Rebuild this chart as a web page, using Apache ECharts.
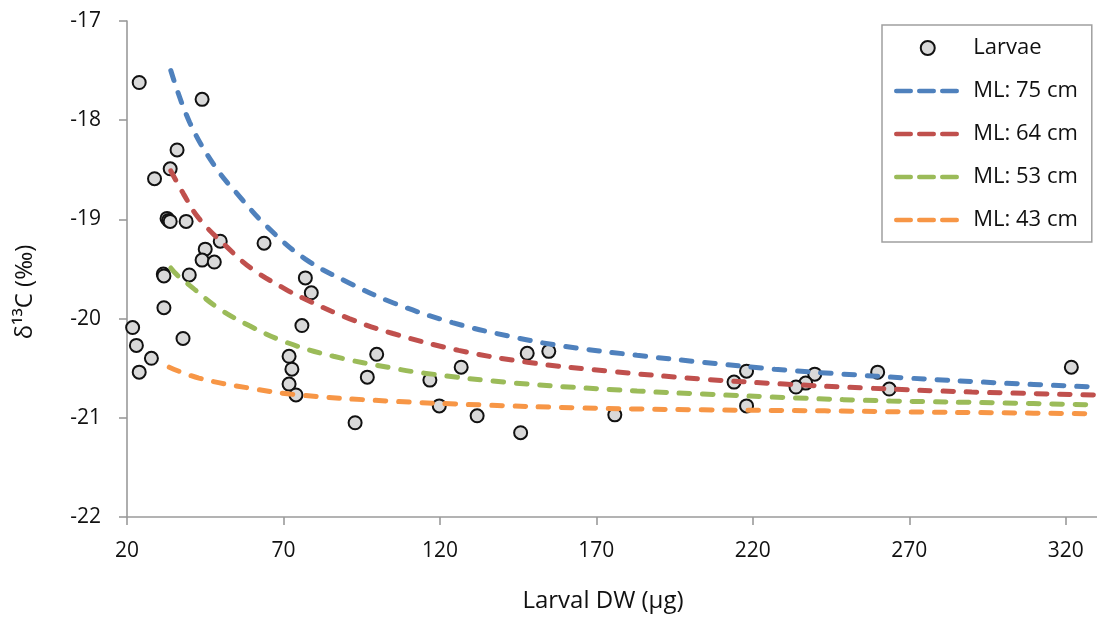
<!DOCTYPE html>
<html>
<head>
<meta charset="utf-8">
<script src="https://cdn.jsdelivr.net/npm/echarts@6/dist/echarts.min.js"></script>
<style>
  html, body { margin: 0; padding: 0; background: #fff; }
  #chart { width: 1097px; height: 626px; }
</style>
</head>
<body>
<div id="chart"></div>
<script>
// Larval dry weight (µg) and carbon isotope ratio of each larva
const larvaeDW = [23.9, 44.0, 36.0, 33.8, 28.8, 32.8, 33.3, 33.8, 38.9, 49.8, 45.0, 63.8,
  44.0, 47.9, 31.6, 31.8, 39.9, 77.0, 78.9, 31.8, 21.8, 23.0, 27.8, 23.9, 37.9, 71.8,
  72.7, 71.8, 74.0, 75.9, 99.8, 96.8, 92.9, 147.9, 154.8, 126.8, 116.8, 119.8, 131.9,
  145.8, 175.9, 218.0, 214.0, 218.0, 239.8, 236.9, 233.8, 259.9, 263.6, 321.8];
const larvaeD13C = [-17.62, -17.79, -18.30, -18.49, -18.59, -18.99, -19.01, -19.02, -19.02,
  -19.22, -19.30, -19.24, -19.41, -19.43, -19.55, -19.57, -19.56, -19.59, -19.74, -19.89,
  -20.09, -20.27, -20.40, -20.54, -20.20, -20.38, -20.51, -20.66, -20.77, -20.07, -20.36,
  -20.59, -21.05, -20.35, -20.33, -20.49, -20.62, -20.88, -20.98, -21.15, -20.97, -20.53,
  -20.64, -20.88, -20.56, -20.65, -20.69, -20.54, -20.71, -20.49];

// Model curves for each mantle length
const ml75DW = [34, 40, 48, 56, 65, 77, 91, 105, 124, 144, 160, 183, 204, 227, 249, 270, 300, 330];
const ml75D13C = [-17.50, -18.02, -18.46, -18.77, -19.08, -19.40, -19.64, -19.84, -20.04, -20.19,
  -20.28, -20.37, -20.44, -20.51, -20.56, -20.60, -20.65, -20.69];

const ml64DW = [34, 38, 43, 52, 60, 71, 76, 91, 105, 126, 148, 174, 204, 230, 256, 290, 330];
const ml64D13C = [-18.51, -18.74, -18.99, -19.28, -19.50, -19.71, -19.79, -20.00, -20.15, -20.32,
  -20.44, -20.53, -20.61, -20.66, -20.70, -20.74, -20.77];

const ml53DW = [34, 36, 41, 49, 59, 71, 86, 105, 115, 144, 183, 204, 234, 264, 300, 330];
const ml53D13C = [-19.49, -19.56, -19.69, -19.89, -20.07, -20.24, -20.38, -20.50, -20.55, -20.65,
  -20.73, -20.76, -20.80, -20.83, -20.85, -20.87];

const ml43DW = [33.5, 43, 59, 75, 103, 133, 165, 204, 243, 268, 300, 330];
const ml43D13C = [-20.49, -20.60, -20.70, -20.77, -20.83, -20.87, -20.90, -20.92, -20.93, -20.94,
  -20.95, -20.96];

const xTicks = [20, 70, 120, 170, 220, 270, 320];
const yTicks = [-22, -21, -20, -19, -18, -17];
const seriesNames = ['Larvae', 'ML: 75 cm', 'ML: 64 cm', 'ML: 53 cm', 'ML: 43 cm'];
const curveColors = ['#4F81BD', '#C0504D', '#9BBB59', '#F79646'];

const zip = (xs, ys) => xs.map((x, i) => [x, ys[i]]);
const FONT = '"Open Sans"';
const AXIS_GRAY = '#9a9a9a';
const INK = '#111';

const curves = [
  zip(ml75DW, ml75D13C),
  zip(ml64DW, ml64D13C),
  zip(ml53DW, ml53D13C),
  zip(ml43DW, ml43D13C)
];

const chart = echarts.init(document.getElementById('chart'), null, { renderer: 'canvas' });

const lineSeries = curves.map((data, i) => ({
  name: seriesNames[i + 1],
  type: 'line',
  data: data,
  smooth: 0.4,
  showSymbol: false,
  symbol: 'none',
  silent: true,
  lineStyle: {
    color: curveColors[i],
    width: 5,
    type: [10.5, 12.8],
    cap: 'round'
  },
  itemStyle: { color: curveColors[i] }
}));

// Legend entries: the dashed curves show only their line, no marker
const legendData = seriesNames.map((name, i) => i === 0
  ? { name }
  : { name, itemStyle: { color: 'rgba(0,0,0,0)', borderWidth: 0, opacity: 0 } });

chart.setOption({
  animation: false,
  textStyle: { fontFamily: FONT },
  grid: { left: 127, right: 0, top: 21, bottom: 109, containLabel: false },
  xAxis: {
    type: 'value',
    min: 20,
    max: 330,
    interval: 50,
    name: 'Larval DW (µg)',
    nameLocation: 'middle',
    nameGap: 72,
    nameTextStyle: { fontSize: 24, color: INK, fontFamily: FONT, padding: [0, 18, 0, 0] },
    axisLine: { onZero: false, lineStyle: { color: AXIS_GRAY, width: 1.6 } },
    axisTick: { show: true, inside: false, length: 8, customValues: xTicks,
      lineStyle: { color: AXIS_GRAY, width: 1.6 } },
    axisLabel: { customValues: xTicks, margin: 24, fontSize: 21, color: INK, fontFamily: FONT },
    splitLine: { show: false }
  },
  yAxis: {
    type: 'value',
    min: -22,
    max: -17,
    interval: 1,
    name: 'δ¹³C (‰)',
    nameLocation: 'middle',
    nameGap: 90,
    nameRotate: 90,
    nameTextStyle: { fontSize: 24, color: INK, fontFamily: FONT, padding: [0, 46, 0, 0] },
    axisLine: { show: true, onZero: false, lineStyle: { color: AXIS_GRAY, width: 1.6 } },
    axisTick: { show: true, inside: false, length: 8, customValues: yTicks,
      lineStyle: { color: AXIS_GRAY, width: 1.6 } },
    axisLabel: { customValues: yTicks, margin: 26, fontSize: 21, color: INK, fontFamily: FONT },
    splitLine: { show: false }
  },
  legend: {
    orient: 'vertical',
    left: 882,
    top: 25,
    data: legendData,
    itemWidth: 63,
    itemHeight: 14,
    itemGap: 21,
    padding: [12, 14, 11, 12],
    borderColor: '#a0a0a0',
    borderWidth: 1.5,
    backgroundColor: '#fff',
    selectedMode: false,
    lineStyle: { type: [14.5, 8.5], width: 4.5, cap: 'round' },
    textStyle: { fontSize: 22, color: INK, fontFamily: FONT, lineHeight: 20,
      padding: [0, 0, 0, 9] }
  },
  series: [
    {
      name: seriesNames[0],
      type: 'scatter',
      data: zip(larvaeDW, larvaeD13C),
      symbol: 'circle',
      symbolSize: 13,
      silent: true,
      itemStyle: { color: '#d9d9d9', borderColor: INK, borderWidth: 2, opacity: 1 }
    },
    ...lineSeries
  ]
});
</script>
</body>
</html>
